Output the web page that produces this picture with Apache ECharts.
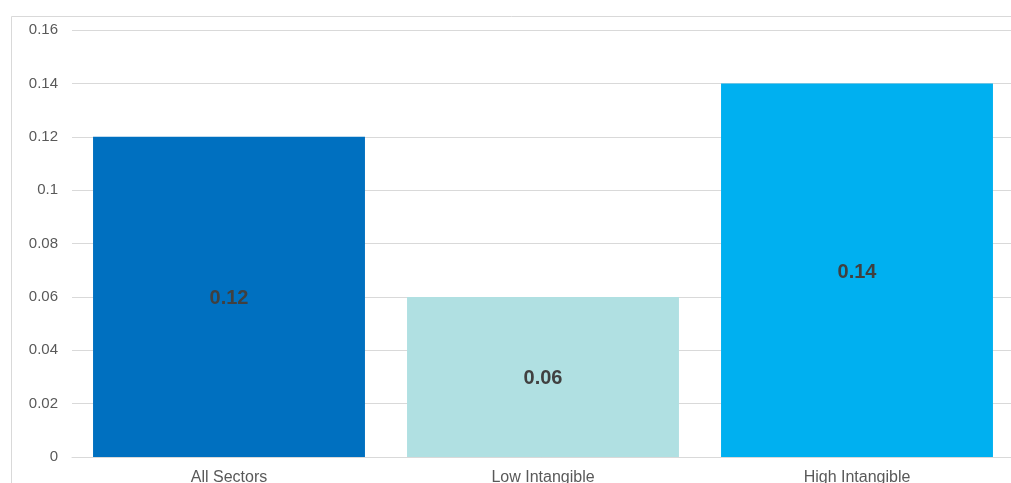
<!DOCTYPE html>
<html>
<head>
<meta charset="utf-8">
<script src="https://cdn.jsdelivr.net/npm/echarts@6/dist/echarts.min.js"></script>
<style>
  html, body { margin: 0; padding: 0; background: #fff; overflow: hidden; }
  #chart { width: 1011px; height: 483px; }
</style>
</head>
<body>
<div id="chart"></div>
<script>
const categories = ['All Sectors', 'Low Intangible', 'High Intangible'];
const values = [0.12, 0.06, 0.14];
const barColors = ['#0070C0', '#B0E0E2', '#00B0F0'];

const chart = echarts.init(document.getElementById('chart'));
chart.setOption({
  animation: false,
  graphic: [{
    type: 'rect',
    shape: { x: 11.5, y: 16.5, width: 1100, height: 600 },
    style: { fill: 'none', stroke: '#d9d9d9', lineWidth: 1 },
    silent: true
  }],
  grid: { left: 72, right: -3, top: 30, bottom: 26, outerBoundsMode: 'none', containLabel: false },
  xAxis: {
    type: 'category',
    data: categories,
    axisTick: { show: false },
    axisLine: { lineStyle: { color: '#d9d9d9' } },
    axisLabel: { color: '#595959', fontSize: 16, fontFamily: 'Liberation Sans, Arial', margin: 13 }
  },
  yAxis: {
    type: 'value',
    min: 0, max: 0.16, interval: 0.02,
    axisLine: { show: false },
    axisTick: { show: false },
    splitLine: { lineStyle: { color: '#d9d9d9' } },
    axisLabel: {
      color: '#595959', fontSize: 15, fontFamily: 'Liberation Sans, Arial', margin: 14,
      formatter: v => String(parseFloat(v.toFixed(2)))
    }
  },
  series: [{
    type: 'bar',
    barWidth: '86.6%',
    data: values.map((v, i) => ({ value: v, itemStyle: { color: barColors[i] } })),
    label: {
      show: true, position: 'inside', offset: [0, 2],
      color: '#404040', fontSize: 20, fontWeight: 'bold',
      fontFamily: 'Liberation Sans, Arial'
    }
  }]
});
</script>
</body>
</html>
